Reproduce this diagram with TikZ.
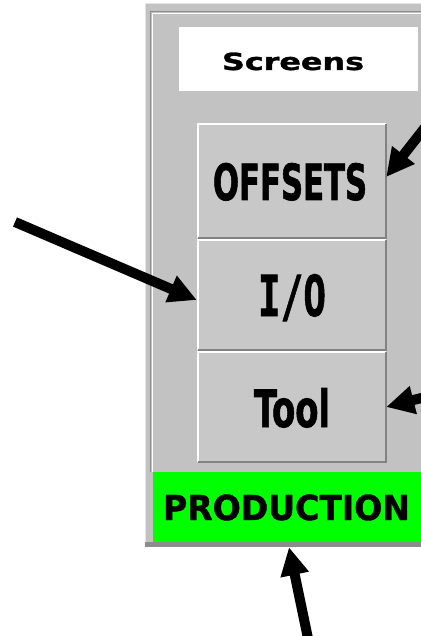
\documentclass[tikz,border=0pt]{standalone}
\usepackage{fontspec}
\setmainfont{DejaVu Sans}
\newfontfamily\heavyfont[FakeBold=1.2]{DejaVu Sans Bold}
\newfontfamily\condfont[FakeBold=1.5]{DejaVu Sans Condensed Bold}
\newfontfamily\monofnt[FakeBold=1.2]{DejaVu Sans Mono Bold}
\usetikzlibrary{arrows.meta,calc}
\definecolor{panelgray}{RGB}{194,194,194}
\definecolor{btngray}{RGB}{200,200,200}
\definecolor{darkedge}{RGB}{130,130,130}
\definecolor{framedark}{RGB}{140,140,140}
\definecolor{scrgreen}{RGB}{0,255,0}
\tikzset{
  panelbox/.style={fill=panelgray, inner sep=0pt, minimum width=280pt, minimum height=544pt},
  btnbox/.style={fill=btngray, inner sep=0pt, minimum width=190pt, minimum height=112pt},
  arr/.style={line width=10pt, -{Triangle[length=28pt,width=27pt]}, black}
}
\begin{document}
\begin{tikzpicture}[x=1pt,y=-1pt]
\useasboundingbox (0,0) rectangle (420,636);
\fill[white] (0,0) rectangle (420,636);
% panel
\node[panelbox] (panel) at (285,275) {};
\draw[white!90!black, line width=1pt] (145.5,547) -- (145.5,3.5) -- (425,3.5);
\draw[framedark, line width=1.5pt] (150.5,472) -- (150.5,11.5) -- (425,11.5);
\draw[white, line width=1pt] (152.5,472) -- (152.5,13.5) -- (425,13.5);
\fill[framedark] (145,542) rectangle (425,546.5);
% screens title
\node[fill=white, inner sep=0pt, minimum width=239pt, minimum height=64pt,
      text height=22pt, text depth=0pt] (screens) at (298.5,59)
  {\hspace*{-11pt}\resizebox{142pt}{17.5pt}{\heavyfont Screens}};
% buttons
\node[btnbox, minimum height=116pt, text height=38pt, text depth=0pt] (offsets) at (292,181)
  {\hspace*{-4pt}\resizebox{154pt}{37pt}{\condfont OFFSETS}};
\node[btnbox, text height=42pt, text depth=0pt] (io) at (292,295)
  {\resizebox{68pt}{42pt}{\monofnt I/O}};
\node[btnbox, text height=40pt, text depth=0pt] (tool) at (292,407)
  {\resizebox{76pt}{39pt}{\condfont Tool}};
\foreach \b in {offsets,io,tool} {
  \draw[white, line width=2pt] ([shift={(1pt,1pt)}]\b.south west) |- ([shift={(-1pt,-1pt)}]\b.north east);
  \draw[darkedge, line width=2pt] ([shift={(-1pt,-1pt)}]\b.north east) |- ([shift={(1pt,1pt)}]\b.south west);
}
% production
\node[fill=scrgreen, inner sep=0pt, minimum width=272pt, minimum height=70pt,
      text height=26pt, text depth=0pt] (production) at (289,507)
  {\hspace*{-5pt}\resizebox{247pt}{25.5pt}{\heavyfont PRODUCTION}};
% arrows
\coordinate (t1) at (441,107);
\coordinate (t2) at (15,222);
\coordinate (t3) at (441,393);
\coordinate (t4) at (310,648);
\draw[arr] (t1) -- ([shift={(-1pt,4pt)}]offsets.east);
\draw[arr] (t2) -- ([yshift=-5pt]io.west);
\draw[arr] (t3) -- ([shift={(-1pt,0pt)}]tool.east);
\draw[arr] (t4) -- ([xshift=4pt]panel.south);
\end{tikzpicture}
\end{document}
